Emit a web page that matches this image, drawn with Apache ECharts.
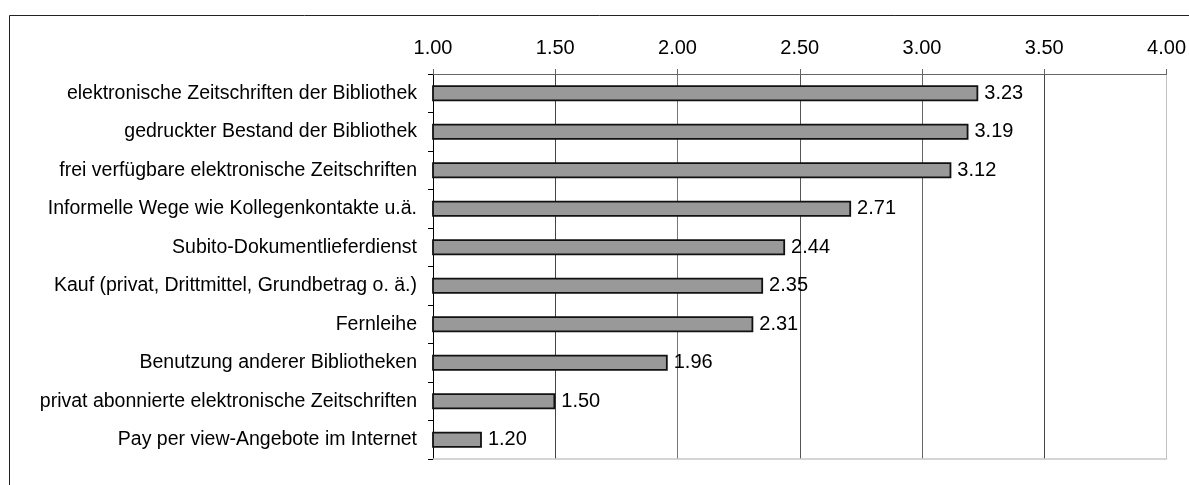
<!DOCTYPE html>
<html>
<head>
<meta charset="utf-8">
<script src="https://cdn.jsdelivr.net/npm/echarts@6/dist/echarts.min.js"></script>
<style>
  html, body { margin: 0; padding: 0; background: #fff; }
  #chart { width: 1189px; height: 485px; }
</style>
</head>
<body>
<div id="chart"></div>
<script>
  // Kategorien von oben nach unten
  var categories = [
    'elektronische Zeitschriften der Bibliothek',
    'gedruckter Bestand der Bibliothek',
    'frei verfügbare elektronische Zeitschriften',
    'Informelle Wege wie Kollegenkontakte u.ä.',
    'Subito-Dokumentlieferdienst',
    'Kauf (privat, Drittmittel, Grundbetrag o. ä.)',
    'Fernleihe',
    'Benutzung anderer Bibliotheken',
    'privat abonnierte elektronische Zeitschriften',
    'Pay per view-Angebote im Internet'
  ];
  var values = [3.23, 3.19, 3.12, 2.71, 2.44, 2.35, 2.31, 1.96, 1.50, 1.20];
  var axisMin = 1;
  var axisMax = 4;
  var axisStep = 0.5;

  var font = 'Liberation Sans, Arial, sans-serif';

  var option = {
    animation: false,
    backgroundColor: '#fff',
    textStyle: { fontFamily: font },
    grid: {
      left: 433,
      right: 21,
      top: 74,
      bottom: 26,
      containLabel: false
    },
    graphic: [{
      // Rahmen um das ganze Diagramm
      type: 'rect',
      silent: true,
      shape: { x: 9.5, y: 15.5, width: 1300, height: 600 },
      style: { fill: 'none', stroke: '#222', lineWidth: 1 }
    }],
    xAxis: [{
      type: 'value',
      position: 'top',
      min: axisMin,
      max: axisMax,
      interval: axisStep,
      axisLine: { show: true, lineStyle: { color: '#666', width: 1 } },
      axisTick: { show: true, length: 5, lineStyle: { color: '#666' } },
      axisLabel: {
        color: '#000',
        fontSize: 20,
        fontFamily: font,
        margin: 16,
        formatter: function(v) {
          return v.toFixed(2);
        }
      },
      splitLine: {
        show: true,
        lineStyle: {
          color: ['#666', '#444', '#777', '#555', '#666', '#444', '#c0c0c0'],
          width: 1
        }
      }
    }, {
      type: 'value',
      position: 'bottom',
      min: axisMin,
      max: axisMax,
      interval: axisStep,
      axisLine: { show: true, lineStyle: { color: '#c8c8c8', width: 1.5 } },
      axisTick: { show: false },
      axisLabel: { show: false },
      splitLine: { show: false }
    }],
    yAxis: {
      type: 'category',
      inverse: true,
      data: categories,
      axisLine: { show: true, lineStyle: { color: '#000', width: 1 } },
      axisTick: { show: true, length: 5, lineStyle: { color: '#000' } },
      axisLabel: {
        color: '#000',
        fontSize: 19.5,
        fontFamily: font,
        margin: 16
      }
    },
    series: [{
      type: 'bar',
      xAxisIndex: 0,
      data: values,
      barWidth: 16,
      itemStyle: {
        color: '#999999',
        borderColor: '#111',
        borderWidth: 1.8
      },
      label: {
        show: true,
        position: 'right',
        distance: 6,
        color: '#000',
        fontSize: 20,
        fontFamily: font,
        formatter: function(p) {
          return p.value.toFixed(2);
        }
      }
    }]
  };

  var myChart = echarts.init(document.getElementById('chart'));
  myChart.setOption(option, true);
</script>
</body>
</html>
